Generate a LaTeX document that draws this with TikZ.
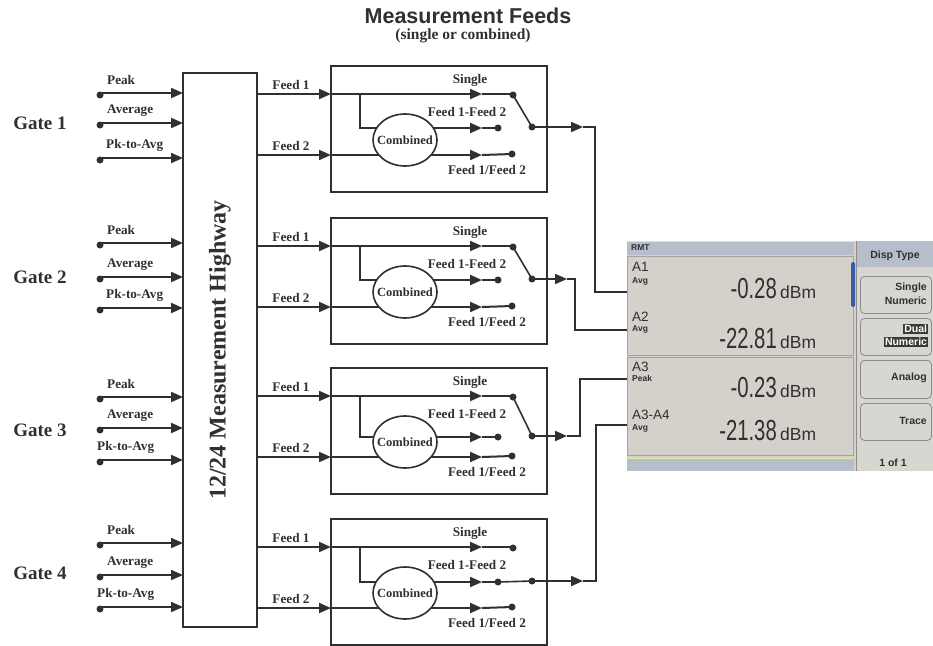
\documentclass[tikz,border=0pt]{standalone}
\usepackage{fontspec}
\usepackage{graphicx}
\setmainfont{Liberation Serif}
\newfontfamily\arialf{Liberation Sans}
\usetikzlibrary{arrows.meta,shapes.geometric,backgrounds}
\definecolor{ink}{HTML}{303030}
\definecolor{panel}{HTML}{D4D0CA}
\definecolor{barc}{HTML}{B6BECB}
\definecolor{rpanel}{HTML}{D8D6D1}
\definecolor{keyb}{HTML}{8E8C88}
\definecolor{yel}{HTML}{E6E6A6}
\definecolor{selblue}{HTML}{3A5CA8}
\newcommand{\fsz}[1]{\fontsize{#1}{#1}\selectfont}
\tikzset{
 ln/.style={draw=ink, line width=2pt},
 tip/.style={-{Triangle[length=12pt,width=10pt]}},
 dot/.style={circle, fill=ink, inner sep=0pt, minimum size=7pt},
 fbox/.style={draw=ink, line width=2pt, minimum width=216pt, minimum height=126pt, inner sep=0pt},
 ell/.style={ellipse, draw=ink, line width=1.6pt, fill=white, minimum width=64pt, minimum height=52pt, inner sep=0pt, font=\bfseries\fsz{12.5}, text=ink},
 lab/.style={font=\bfseries\fsz{13.2}, text=ink, inner sep=0pt},
 gate/.style={font=\bfseries\fsz{19}, text=ink, inner sep=0pt},
 dlab/.style={font=\arialf\fsz{13.5}, text=ink, inner sep=0pt, anchor=west},
 dsub/.style={font=\arialf\bfseries\fsz{8.5}, text=ink, inner sep=0pt, anchor=west},
 dnum/.style={font=\arialf\fsz{29}, text=ink, inner sep=0pt, anchor=base east},
 dunit/.style={font=\arialf\fsz{17.5}, text=ink, inner sep=0pt, anchor=base west},
 skey/.style={draw=keyb, line width=0.8pt, fill=rpanel, rounded corners=4pt, minimum width=71pt, inner sep=0pt},
 ktxt/.style={font=\arialf\bfseries\fsz{10.5}, text=ink, inner sep=0pt, anchor=east},
}
% feed box: #1 id, #2 top y, #3 branch row offset
\newcommand{\FeedBox}[3]{%
\begin{scope}[shift={(0,#2)}]
 \node[fbox] (bx#1) at (439,63) {};
 \node[ell] (cb#1) at (405,74) {\makebox[0pt]{Combined}};
 \coordinate (hf1#1) at (257,28);
 \coordinate (hf2#1) at (257,89);
 \coordinate (in1#1) at (331,28);
 \coordinate (in2#1) at (331,89);
 \coordinate (br#1) at (360,28);
 \coordinate (bb#1) at (360,#3);
 \coordinate (ma#1) at (482,28);
 \coordinate (mb#1) at (482,#3);
 \coordinate (mc#1) at (482,89);
 \node[dot] (sd#1) at (513,29) {};
 \node[dot] (dd#1) at (498,#3) {};
 \node[dot] (qd#1) at (512,88) {};
 \node[dot] (cd#1) at (532,{#3-1}) {};
 \node[lab] (fl1#1) at (291,19) {Feed 1};
 \node[lab] (fl2#1) at (291,80) {Feed 2};
 \node[lab] (sl#1) at (470,14) {Single};
 \node[lab] (dl#1) at (467,46) {Feed 1-Feed 2};
 \node[lab] (ql#1) at (487,104) {Feed 1/Feed 2};
 \draw[ln,tip] (hf1#1) -- (in1#1);
 \draw[ln,tip] (hf2#1) -- (in2#1);
 \draw[ln,tip] (in1#1) -- (ma#1);
 \draw[ln] (ma#1) -- (ma#1 -| sd#1.center);
 \begin{scope}[on background layer]
  \draw[ln] (br#1) -- (bb#1) -- (bb#1 -| cb#1.center);
  \draw[ln] (in2#1) -- (in2#1 -| cb#1.center);
  \draw[ln,tip] (cb#1.center |- mb#1) -- (mb#1);
  \draw[ln,tip] (cb#1.center |- mc#1) -- (mc#1);
 \end{scope}
 \draw[ln] (mb#1) -- (dd#1.center);
 \draw[ln] (mc#1) -- (qd#1.center);
\end{scope}}
% gate inputs: #1 id, #2 label y, #3 #4 #5 row ys, #6 x of Pk-to-Avg label
\newcommand{\GateIn}[6]{%
 \node[gate] (g#1) at (40,#2) {Gate #1};
 \node[dot] (pd#1) at (100,{#3+2}) {};
 \node[dot] (ad#1) at (100,{#4+2}) {};
 \node[dot] (kd#1) at (100,{#5+2}) {};
 \coordinate (pe#1) at (183,#3);
 \coordinate (ae#1) at (183,#4);
 \coordinate (ke#1) at (183,#5);
 \draw[ln,tip] (pd#1.center |- pe#1) -- (pe#1);
 \draw[ln,tip] (ad#1.center |- ae#1) -- (ae#1);
 \draw[ln,tip] (kd#1.center |- ke#1) -- (ke#1);
 \node[lab,anchor=west] (pl#1) at (107,{#3-13}) {Peak};
 \node[lab,anchor=west] (al#1) at (107,{#4-12}) {Average};
 \node[lab,anchor=west] (kl#1) at (#6,{#5-13}) {Pk-to-Avg};
}
\begin{document}
\begin{tikzpicture}[x=1pt,y=-1pt]
\useasboundingbox (0,0) rectangle (933,645);
% title
\node[font=\arialf\bfseries\fsz{21.5}, text=ink, inner sep=0pt] (title) at (468,16) {Measurement Feeds};
\node[font=\bfseries\fsz{15.5}, text=ink, inner sep=0pt] (subtitle) at (463,36) {(single or combined)};
% highway
\node[draw=ink, line width=2pt, rotate=90, minimum width=554pt, minimum height=74pt, inner sep=0pt,
      font=\bfseries\fsz{24}, text=ink] (hw) at (220,350) {12/24 Measurement Highway};
% gates
\GateIn{1}{123}{93}{123}{158}{106}
\GateIn{2}{277}{243}{277}{308}{106}
\GateIn{3}{430}{397}{428}{460}{97}
\GateIn{4}{573}{543}{575}{607}{97}
% feed boxes
\FeedBox{1}{66}{62}
\FeedBox{2}{218}{62}
\FeedBox{3}{368}{69}
\FeedBox{4}{519}{63}
% switch arms
\draw[ln,line width=1.6pt] (sd1.center) -- (cd1.center);
\draw[ln,line width=1.6pt] (sd2.center) -- (cd2.center);
\draw[ln,line width=1.6pt] (sd3.center) -- (cd3.center);
\draw[ln,line width=1.6pt] (dd4.center) -- (cd4.center);
% display
\fill[panel] (627,241) rectangle (856,471);
\fill[rpanel] (856,241) rectangle (933,471);
\node[fill=barc, minimum width=227pt, minimum height=14pt, inner sep=0pt, anchor=north west] (rmt) at (627,241) {};
\draw[yel, line width=1pt] (rmt.north west) -- (rmt.north east);
\node[font=\arialf\bfseries\fsz{8.5}, text=ink, anchor=west, inner sep=0pt] (rmtt) at (631,248) {RMT};
\node[draw=keyb!80, line width=0.8pt, fill=panel, minimum width=226pt, minimum height=99pt, inner sep=0pt, anchor=north west] (w1) at (627,256) {};
\node[draw=keyb!80, line width=0.8pt, fill=panel, minimum width=226pt, minimum height=98pt, inner sep=0pt, anchor=north west] (w2) at (627,357) {};
\fill[selblue, rounded corners=1.5pt] (851,262) rectangle (855,307);
\node[fill=barc, minimum width=227pt, minimum height=13pt, inner sep=0pt, anchor=north west] (bbar) at (627,458) {};
\draw[yel, line width=1pt] (bbar.north west) -- (bbar.north east);
\draw[keyb, line width=1.4pt] (856.5,241) -- (856.5,471);
\node[fill=barc, minimum width=76pt, minimum height=26pt, inner sep=0pt, anchor=north west] (hdr) at (857,241) {};
\node[font=\arialf\bfseries\fsz{10.5}, text=ink, inner sep=0pt] (hdrt) at (895,256) {Disp Type};
\node[skey, minimum height=37pt, anchor=north west] (k1) at (860,276) {};
\node[skey, minimum height=37pt, anchor=north west] (k2) at (860,318) {};
\node[skey, minimum height=38pt, anchor=north west] (k3) at (860,360) {};
\node[skey, minimum height=37pt, anchor=north west] (k4) at (860,403) {};
\node[ktxt] (k1a) at (927,288) {Single};
\node[ktxt] (k1b) at (927,301) {Numeric};
\node[ktxt, fill=ink!95, text=white, inner sep=0.8pt] (k2a) at (928,329) {Dual};
\node[ktxt, fill=ink!95, text=white, inner sep=0.8pt] (k2b) at (928,342) {Numeric};
\node[ktxt] (k3a) at (927,378) {Analog};
\node[ktxt] (k4a) at (927,421) {Trace};
\node[font=\arialf\bfseries\fsz{10.5}, text=ink, inner sep=0pt] (pg) at (893,463) {1 of 1};
% readings
\node[dlab] (a1) at (632,267) {A1};
\node[dsub] (a1s) at (632,281) {Avg};
\node[dnum] (n1) at (777,298) {\scalebox{0.7}[1]{-0.28}};
\node[dunit] (u1) at (780,298) {dBm};
\node[dlab] (a2) at (632,317) {A2};
\node[dsub] (a2s) at (632,329) {Avg};
\node[dnum] (n2) at (777,348) {\scalebox{0.7}[1]{-22.81}};
\node[dunit] (u2) at (780,348) {dBm};
\node[dlab] (a3) at (632,367) {A3};
\node[dsub] (a3s) at (632,378) {Peak};
\node[dnum] (n3) at (777,397) {\scalebox{0.7}[1]{-0.23}};
\node[dunit] (u3) at (780,397) {dBm};
\node[dlab] (a4) at (632,415) {A3-A4};
\node[dsub] (a4s) at (632,428) {Avg};
\node[dnum] (n4) at (777,440) {\scalebox{0.7}[1]{-21.38}};
\node[dunit] (u4) at (780,440) {dBm};
% display inputs
\coordinate (din1) at (627,292);
\coordinate (din2) at (627,330);
\coordinate (din3) at (627,379);
\coordinate (din4) at (627,425);
% outputs
\coordinate (oa1) at (583,127);
\coordinate (ok1) at (595,127);
\coordinate (oa2) at (567,279);
\coordinate (ok2) at (575,279);
\coordinate (oa3) at (567,436);
\coordinate (ok3) at (580,436);
\coordinate (oa4) at (583,581);
\coordinate (ok4) at (596,581);
\draw[ln,tip] (cd1.center) -- (oa1);
\draw[ln] (oa1) -- (ok1) |- (din1);
\draw[ln,tip] (cd2.center) -- (oa2);
\draw[ln] (oa2) -- (ok2) |- (din2);
\draw[ln,tip] (cd3.center) -- (oa3);
\draw[ln] (oa3) -- (ok3) |- (din3);
\draw[ln,tip] (cd4.center) -- (oa4);
\draw[ln] (oa4) -- (ok4) |- (din4);
\end{tikzpicture}
\end{document}
